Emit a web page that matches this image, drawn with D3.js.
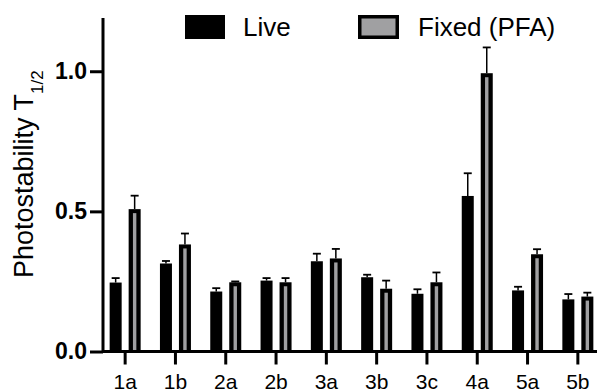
<!DOCTYPE html>
<html>
<head>
<meta charset="utf-8">
<script src="https://cdn.jsdelivr.net/npm/d3@7"></script>
<style>
  html, body { margin: 0; padding: 0; background: #fff; }
  svg { display: block; font-family: "Liberation Sans", Arial, sans-serif; }
</style>
</head>
<body>
<svg id="chart" width="601" height="392"></svg>
<script>
const categories = ["1a", "1b", "2a", "2b", "3a", "3b", "3c", "4a", "5a", "5b"];
const seriesNames = ["Live", "Fixed (PFA)"];
const liveMean  = [0.246, 0.314, 0.214, 0.253, 0.322, 0.265, 0.206, 0.555, 0.218, 0.186];
const liveErr   = [0.016, 0.009, 0.012, 0.009, 0.027, 0.009, 0.016, 0.081, 0.013, 0.019];
const fixedMean = [0.508, 0.382, 0.247, 0.247, 0.332, 0.224, 0.247, 0.993, 0.347, 0.196];
const fixedErr  = [0.048, 0.039, 0.003, 0.015, 0.034, 0.029, 0.035, 0.092, 0.018, 0.014];
const yTicks = [0, 0.5, 1.0];
const yLabel = "Photostability T";
const yLabelSub = "1/2";

const FONT = "'Liberation Sans', Arial, sans-serif";
const svg = d3.select("#chart");
const axisX = 103, axisTop = 18, baseY = 351.5, axisRight = 597;
const grayFill = "#a0a0a2";

const y = d3.scaleLinear().domain([0, 1.19]).range([baseY, axisTop]);
const x0 = d3.scaleBand().domain(categories).range([100, 603])
  .paddingInner(1 - 31 / 50.3).paddingOuter((1 - 31 / 50.3) / 2);
const x1 = d3.scaleBand().domain(["live", "fixed"]).range([0, x0.bandwidth()]).paddingInner(0.368);

const rows = categories.map((c, i) => ({
  cat: c,
  bars: [
    { key: "live", mean: liveMean[i], err: liveErr[i] },
    { key: "fixed", mean: fixedMean[i], err: fixedErr[i] }
  ]
}));

// Bars
const g = svg.append("g");
const groups = g.selectAll("g.cat").data(rows).join("g")
  .attr("transform", d => `translate(${x0(d.cat)},0)`);

const bars = groups.selectAll("g.bar").data(d => d.bars).join("g");
bars.append("rect")
  .attr("x", d => x1(d.key))
  .attr("width", x1.bandwidth())
  .attr("y", d => y(d.mean))
  .attr("height", d => y(0) - y(d.mean))
  .attr("fill", "#000");
const inset = 4.3;
bars.filter(d => d.key === "fixed").append("rect")
  .attr("x", d => x1(d.key) + inset)
  .attr("width", x1.bandwidth() - 2 * inset)
  .attr("y", d => y(d.mean) + 4)
  .attr("height", d => Math.max(0, y(0) - y(d.mean) - 4))
  .attr("fill", grayFill);

// Error bars (upper only)
bars.append("line")
  .attr("x1", d => x1(d.key) + x1.bandwidth() / 2)
  .attr("x2", d => x1(d.key) + x1.bandwidth() / 2)
  .attr("y1", d => y(d.mean))
  .attr("y2", d => y(d.mean + d.err))
  .attr("stroke", "#000").attr("stroke-width", 1.5);
bars.append("line")
  .attr("x1", d => x1(d.key) + x1.bandwidth() / 2 - 4)
  .attr("x2", d => x1(d.key) + x1.bandwidth() / 2 + 4)
  .attr("y1", d => y(d.mean + d.err))
  .attr("y2", d => y(d.mean + d.err))
  .attr("stroke", "#000").attr("stroke-width", 1.8);

// Y axis
const yAxis = d3.axisLeft(y).tickValues(yTicks).tickFormat(d3.format(".1f"))
  .tickSize(13).tickPadding(3);
const yg = svg.append("g").attr("transform", `translate(${axisX},0)`).call(yAxis);
yg.select(".domain").remove();
yg.selectAll(".tick line").attr("stroke", "#000").attr("stroke-width", 3);
yg.selectAll(".tick text").attr("font-size", 23).attr("font-weight", "bold")
  .attr("font-family", FONT).attr("fill", "#000");

// X axis
const xAxis = d3.axisBottom(x0).tickSize(13).tickPadding(10);
const xg = svg.append("g").attr("transform", `translate(0,${baseY})`).call(xAxis);
xg.select(".domain").remove();
xg.selectAll(".tick line").attr("stroke", "#000").attr("stroke-width", 3);
xg.selectAll(".tick text").attr("font-size", 21)
  .attr("font-family", FONT).attr("fill", "#000");

// Axis lines
svg.append("line").attr("x1", axisX).attr("x2", axisX)
  .attr("y1", axisTop).attr("y2", baseY + 1.5)
  .attr("stroke", "#000").attr("stroke-width", 3);
svg.append("line").attr("x1", axisX).attr("x2", axisRight)
  .attr("y1", baseY).attr("y2", baseY)
  .attr("stroke", "#000").attr("stroke-width", 3);

// Y label
const yl = svg.append("text")
  .attr("transform", "translate(33,278) rotate(-90)")
  .attr("font-family", FONT)
  .attr("font-size", 27).attr("fill", "#000");
yl.append("tspan").text(yLabel);
yl.append("tspan").attr("font-size", 17).attr("dy", 10).text(yLabelSub);

// Legend
const legend = svg.append("g").attr("font-family", FONT);
legend.append("rect").attr("x", 185).attr("y", 15).attr("width", 40).attr("height", 24).attr("fill", "#000");
legend.append("text").attr("x", 243).attr("y", 36).attr("font-size", 26).attr("fill", "#000").text(seriesNames[0]);
legend.append("rect").attr("x", 358).attr("y", 15).attr("width", 41).attr("height", 24).attr("fill", "#000");
legend.append("rect").attr("x", 361.5).attr("y", 18.5).attr("width", 34).attr("height", 17).attr("fill", grayFill);
legend.append("text").attr("x", 418).attr("y", 36).attr("font-size", 26).attr("fill", "#000").text(seriesNames[1]);
</script>
</body>
</html>
